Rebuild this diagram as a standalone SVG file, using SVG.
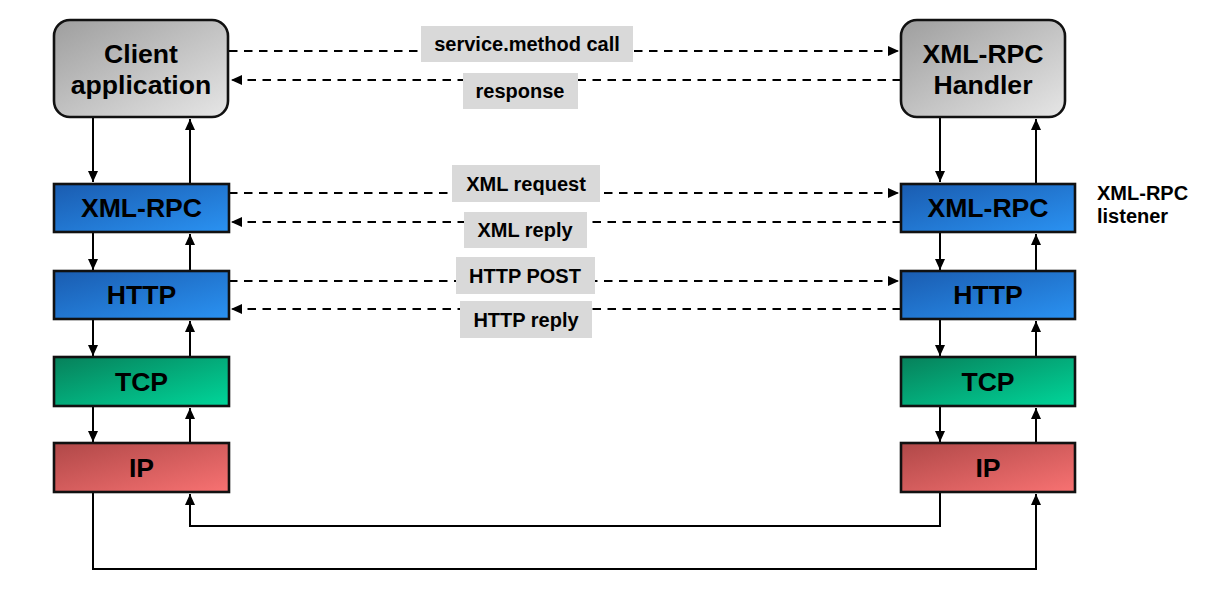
<svg xmlns="http://www.w3.org/2000/svg" width="1211" height="592" viewBox="0 0 1211 592">
<defs>
<linearGradient id="gGray" x1="0" y1="0" x2="1" y2="1"><stop offset="0" stop-color="#9e9e9e"/><stop offset="1" stop-color="#e6e6e6"/></linearGradient>
<linearGradient id="gBlue" x1="0" y1="0" x2="1" y2="1"><stop offset="0" stop-color="#1a5cb0"/><stop offset="1" stop-color="#2a92f2"/></linearGradient>
<linearGradient id="gGreen" x1="0" y1="0" x2="1" y2="1"><stop offset="0" stop-color="#07805a"/><stop offset="1" stop-color="#00d69a"/></linearGradient>
<linearGradient id="gRed" x1="0" y1="0" x2="1" y2="1"><stop offset="0" stop-color="#b04848"/><stop offset="1" stop-color="#f87272"/></linearGradient>
<marker id="ah" viewBox="0 0 11 10" refX="11" refY="5" markerWidth="11" markerHeight="10" markerUnits="userSpaceOnUse" orient="auto"><path d="M0,0 L11,5 L0,10 z" fill="#000"/></marker>
<style>
.box{stroke:#111;stroke-width:2.6}
.t{font-family:"Liberation Sans",Arial,sans-serif;font-weight:bold;fill:#000;text-anchor:middle}
.big{font-size:26.6px}
.lbl{font-size:20px}
.lb{fill:#d9d9d9}
.c{fill:none;stroke:#000;stroke-width:2}
.d{stroke-dasharray:8.5 6.5}
</style>
</defs>
<rect width="1211" height="592" fill="#fff"/>
<g id="connectors">
<path class="c d" d="M229,51 H899" marker-end="url(#ah)"/>
<path class="c d" d="M901,80 H231" marker-end="url(#ah)"/>
<path class="c d" d="M229,193 H899" marker-end="url(#ah)"/>
<path class="c d" d="M901,222 H231" marker-end="url(#ah)"/>
<path class="c d" d="M229,281 H899" marker-end="url(#ah)"/>
<path class="c d" d="M901,309 H231" marker-end="url(#ah)"/>
<path class="c" d="M93,117 V182" marker-end="url(#ah)"/>
<path class="c" d="M190,183 V119" marker-end="url(#ah)"/>
<path class="c" d="M93,232 V270" marker-end="url(#ah)"/>
<path class="c" d="M190,271 V234" marker-end="url(#ah)"/>
<path class="c" d="M93,319 V356" marker-end="url(#ah)"/>
<path class="c" d="M190,357 V321" marker-end="url(#ah)"/>
<path class="c" d="M93,406 V442" marker-end="url(#ah)"/>
<path class="c" d="M190,443 V408" marker-end="url(#ah)"/>
<path class="c" d="M940,117 V182" marker-end="url(#ah)"/>
<path class="c" d="M1036,183 V119" marker-end="url(#ah)"/>
<path class="c" d="M940,232 V270" marker-end="url(#ah)"/>
<path class="c" d="M1036,271 V234" marker-end="url(#ah)"/>
<path class="c" d="M940,319 V356" marker-end="url(#ah)"/>
<path class="c" d="M1036,357 V321" marker-end="url(#ah)"/>
<path class="c" d="M940,406 V442" marker-end="url(#ah)"/>
<path class="c" d="M1036,443 V408" marker-end="url(#ah)"/>
<path class="c" d="M93,492 V569 H1036 V494" marker-end="url(#ah)"/>
<path class="c" d="M940,492 V526 H190 V494" marker-end="url(#ah)"/>
</g>
<g id="labels">
<rect class="lb" x="421" y="26" width="212" height="36"/>
<text class="t lbl" x="527" y="51">service.method call</text>
<rect class="lb" x="463" y="73" width="115" height="36"/>
<text class="t lbl" x="520" y="98">response</text>
<rect class="lb" x="452" y="165" width="148" height="37"/>
<text class="t lbl" x="526" y="191">XML request</text>
<rect class="lb" x="464" y="212" width="123" height="36"/>
<text class="t lbl" x="525" y="237">XML reply</text>
<rect class="lb" x="456" y="257" width="139" height="37"/>
<text class="t lbl" x="525" y="283">HTTP POST</text>
<rect class="lb" x="460" y="301" width="132" height="37"/>
<text class="t lbl" x="526" y="327">HTTP reply</text>
</g>
<g id="client-app">
<rect class="box" x="54" y="20" width="174" height="97" rx="16" fill="url(#gGray)"/>
<text class="t big" x="141" y="63">Client</text>
<text class="t big" x="141" y="94">application</text>
</g>
<g id="xmlrpc-handler">
<rect class="box" x="901" y="20" width="164" height="97" rx="16" fill="url(#gGray)"/>
<text class="t big" x="983" y="63">XML-RPC</text>
<text class="t big" x="983" y="94">Handler</text>
</g>
<g id="client-xmlrpc">
<rect class="box" x="54" y="184" width="175" height="48" fill="url(#gBlue)"/>
<text class="t big" x="141.5" y="217">XML-RPC</text>
</g>
<g id="client-http">
<rect class="box" x="54" y="271" width="175" height="48" fill="url(#gBlue)"/>
<text class="t big" x="141.5" y="304">HTTP</text>
</g>
<g id="client-tcp">
<rect class="box" x="54" y="357" width="175" height="49" fill="url(#gGreen)"/>
<text class="t big" x="141.5" y="391">TCP</text>
</g>
<g id="client-ip">
<rect class="box" x="54" y="443" width="175" height="49" fill="url(#gRed)"/>
<text class="t big" x="141.5" y="477">IP</text>
</g>
<g id="server-xmlrpc">
<rect class="box" x="901" y="184" width="174" height="48" fill="url(#gBlue)"/>
<text class="t big" x="988" y="217">XML-RPC</text>
</g>
<g id="server-http">
<rect class="box" x="901" y="271" width="174" height="48" fill="url(#gBlue)"/>
<text class="t big" x="988" y="304">HTTP</text>
</g>
<g id="server-tcp">
<rect class="box" x="901" y="357" width="174" height="49" fill="url(#gGreen)"/>
<text class="t big" x="988" y="391">TCP</text>
</g>
<g id="server-ip">
<rect class="box" x="901" y="443" width="174" height="49" fill="url(#gRed)"/>
<text class="t big" x="988" y="477">IP</text>
</g>
<g id="listener-note">
<text class="t" style="font-size:20px;text-anchor:start" x="1097" y="200">XML-RPC</text>
<text class="t" style="font-size:20px;text-anchor:start" x="1097" y="223">listener</text>
</g>
</svg>
